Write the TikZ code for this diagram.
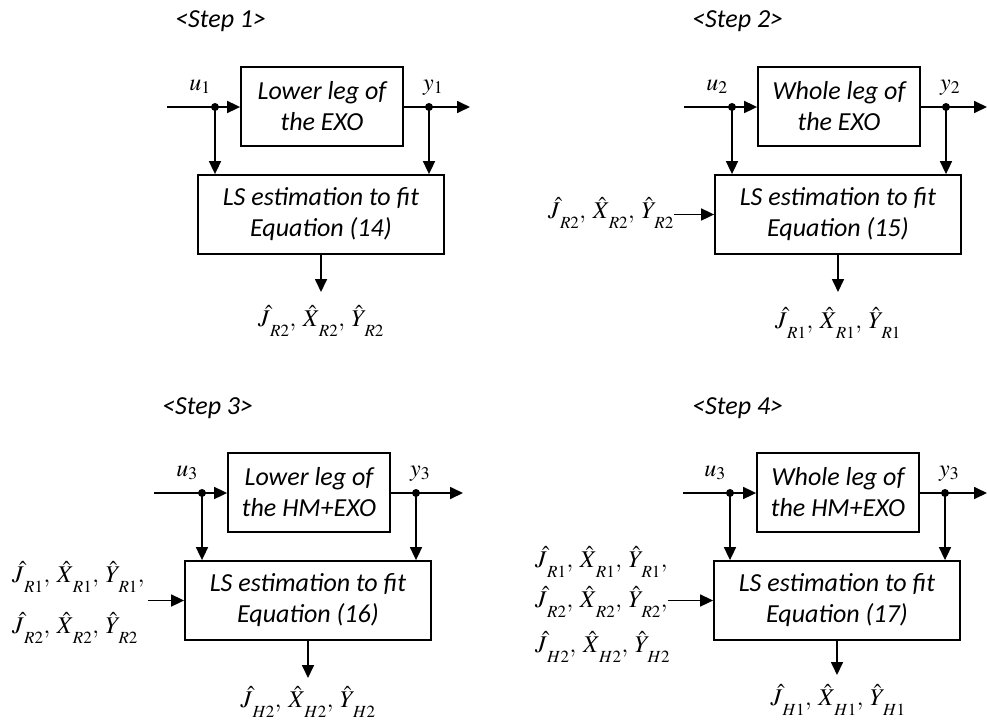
\documentclass[tikz,border=0pt]{standalone}
\usepackage{mathptmx}
\usepackage[no-math]{fontspec}
\setmainfont{Carlito}
\usetikzlibrary{arrows.meta}
\newcommand\myfs{\fontsize{26}{31}\selectfont}
\newcommand\mymath{\fontsize{24}{29}\selectfont}
\newcommand\hs[1]{_{\mkern2mu\lower6.5pt\hbox{\fontsize{17}{17}\selectfont$#1$}}}
\newcommand\cm{,\mkern3mu}
\tikzset{
  blk/.style={draw, line width=1.8pt, inner sep=0pt, align=center, font=\myfs\itshape, minimum height=79pt},
  topblk/.style={blk, minimum width=162pt},
  lsblk/.style={blk, minimum width=246pt},
  arr/.style={line width=1.7pt, -{Triangle[length=13pt,width=12pt]}},
  ln/.style={line width=1.7pt},
  dotn/.style={circle, fill, inner sep=0pt, minimum size=8pt},
  steplbl/.style={font=\myfs\itshape, anchor=base west, inner sep=0pt},
  mlbl/.style={font=\mymath, inner sep=0pt},
}
\begin{document}
\begin{tikzpicture}[x=1pt,y=-1pt]
\useasboundingbox (0,0) rectangle (987,723);

% ---------- Step 1 ----------
\begin{scope}[shift={(0,0)}]
  \node[steplbl] (st1) at (175,27) {<Step 1>};
  \node[topblk] (top1) at (322,106.5) {Lower leg of\\the EXO};
  \node[lsblk] (ls1) at (321,214.5) {LS estimation to fit\\Equation (14)};
  \coordinate (in1) at (167,107);
  \coordinate (out1) at (470,107);
  \node[dotn] (du1) at (215,107) {};
  \node[dotn] (dy1) at (429,107) {};
  \draw[ln] (in1) -- (du1.center);
  \draw[arr] (du1.center) -- (du1 -| top1.west);
  \draw[ln] (dy1 -| top1.east) -- (dy1.center);
  \draw[arr] (dy1.center) -- (out1);
  \draw[arr] (du1.center) -- (du1 |- ls1.north);
  \draw[arr] (dy1.center) -- (dy1 |- ls1.north);
  \node[mlbl, anchor=base east] (lu1) at (211,90) {$u_1$};
  \node[mlbl, anchor=base west] (ly1) at (423,90) {$y_1$};
  \coordinate (o1) at (321,292);
  \draw[arr] (ls1.south) -- (o1);
  \node[mlbl, anchor=base] (r1) at (321,326) {$\hat J\hs{R2}\cm\hat X\hs{R2}\cm\hat Y\hs{R2}$};
\end{scope}

% ---------- Step 2 ----------
\begin{scope}[shift={(517,0)}]
  \node[steplbl] (st2) at (175,27) {<Step 2>};
  \node[topblk] (top2) at (322,106.5) {Whole leg of\\the EXO};
  \node[lsblk] (ls2) at (321,214.5) {LS estimation to fit\\Equation (15)};
  \coordinate (in2) at (167,107);
  \coordinate (out2) at (470,107);
  \node[dotn] (du2) at (215,107) {};
  \node[dotn] (dy2) at (429,107) {};
  \draw[ln] (in2) -- (du2.center);
  \draw[arr] (du2.center) -- (du2 -| top2.west);
  \draw[ln] (dy2 -| top2.east) -- (dy2.center);
  \draw[arr] (dy2.center) -- (out2);
  \draw[arr] (du2.center) -- (du2 |- ls2.north);
  \draw[arr] (dy2.center) -- (dy2 |- ls2.north);
  \node[mlbl, anchor=base east] (lu2) at (211,90) {$u_2$};
  \node[mlbl, anchor=base west] (ly2) at (423,90) {$y_2$};
  \coordinate (o2) at (321,292);
  \draw[arr] (ls2.south) -- (o2);
  \node[mlbl, anchor=base] (r2) at (321,328) {$\hat J\hs{R1}\cm\hat X\hs{R1}\cm\hat Y\hs{R1}$};
  \node[mlbl, anchor=base east] (p2) at (157,218) {$\hat J\hs{R2}\cm\hat X\hs{R2}\cm\hat Y\hs{R2}$};
  \draw[arr] (p2.east |- ls2.west) -- (ls2.west);
\end{scope}

% ---------- Step 3 ----------
\begin{scope}[shift={(-13,386)}]
  \node[steplbl] (st3) at (175,28) {<Step 3>};
  \node[topblk] (top3) at (322,106.5) {Lower leg of\\the HM+EXO};
  \node[lsblk] (ls3) at (321,214.5) {LS estimation to fit\\Equation (16)};
  \coordinate (in3) at (167,107);
  \coordinate (out3) at (476,107);
  \node[dotn] (du3) at (215,107) {};
  \node[dotn] (dy3) at (429,107) {};
  \draw[ln] (in3) -- (du3.center);
  \draw[arr] (du3.center) -- (du3 -| top3.west);
  \draw[ln] (dy3 -| top3.east) -- (dy3.center);
  \draw[arr] (dy3.center) -- (out3);
  \draw[arr] (du3.center) -- (du3 |- ls3.north);
  \draw[arr] (dy3.center) -- (dy3 |- ls3.north);
  \node[mlbl, anchor=base east] (lu3) at (211,90) {$u_3$};
  \node[mlbl, anchor=base west] (ly3) at (423,90) {$y_3$};
  \coordinate (o3) at (321,292);
  \draw[arr] (ls3.south) -- (o3);
  \node[mlbl, anchor=base] (r3) at (321,321) {$\hat J\hs{H2}\cm\hat X\hs{H2}\cm\hat Y\hs{H2}$};
  \node[mlbl, anchor=base west] (p3a) at (25,196) {$\hat J\hs{R1}\cm\hat X\hs{R1}\cm\hat Y\hs{R1},$};
  \node[mlbl, anchor=base west] (p3b) at (25,247) {$\hat J\hs{R2}\cm\hat X\hs{R2}\cm\hat Y\hs{R2}$};
  \draw[arr] ([xshift=3pt]p3a.east |- ls3.west) -- (ls3.west);
\end{scope}

% ---------- Step 4 ----------
\begin{scope}[shift={(516,386)}]
  \node[steplbl] (st4) at (176,28) {<Step 4>};
  \node[topblk] (top4) at (322,106.5) {Whole leg of\\the HM+EXO};
  \node[lsblk] (ls4) at (321,214.5) {LS estimation to fit\\Equation (17)};
  \coordinate (in4) at (167,107);
  \coordinate (out4) at (471,107);
  \node[dotn] (du4) at (214,107) {};
  \node[dotn] (dy4) at (429,107) {};
  \draw[ln] (in4) -- (du4.center);
  \draw[arr] (du4.center) -- (du4 -| top4.west);
  \draw[ln] (dy4 -| top4.east) -- (dy4.center);
  \draw[arr] (dy4.center) -- (out4);
  \draw[arr] (du4.center) -- (du4 |- ls4.north);
  \draw[arr] (dy4.center) -- (dy4 |- ls4.north);
  \node[mlbl, anchor=base east] (lu4) at (210,90) {$u_3$};
  \node[mlbl, anchor=base west] (ly4) at (423,90) {$y_3$};
  \coordinate (o4) at (321,289);
  \draw[arr] (ls4.south) -- (o4);
  \node[mlbl, anchor=base] (r4) at (322,319) {$\hat J\hs{H1}\cm\hat X\hs{H1}\cm\hat Y\hs{H1}$};
  \node[mlbl, anchor=base west] (p4a) at (19,181) {$\hat J\hs{R1}\cm\hat X\hs{R1}\cm\hat Y\hs{R1},$};
  \node[mlbl, anchor=base west] (p4b) at (19,221) {$\hat J\hs{R2}\cm\hat X\hs{R2}\cm\hat Y\hs{R2},$};
  \node[mlbl, anchor=base west] (p4c) at (19,266) {$\hat J\hs{H2}\cm\hat X\hs{H2}\cm\hat Y\hs{H2}$};
  \draw[arr] (p4b.east |- ls4.west) -- (ls4.west);
\end{scope}
\end{tikzpicture}
\end{document}
